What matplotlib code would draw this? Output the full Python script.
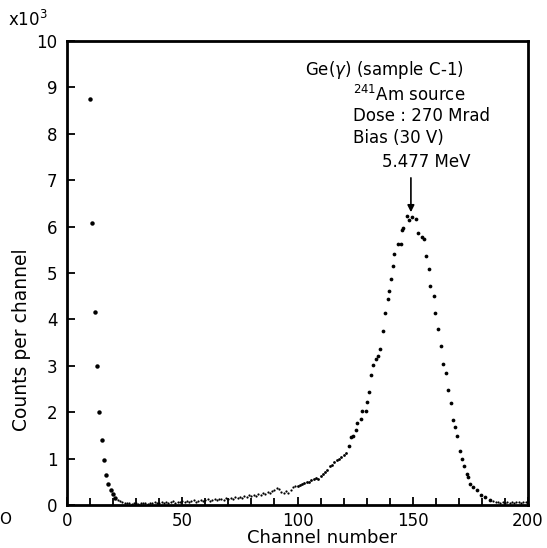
import matplotlib
matplotlib.use("Agg")
import matplotlib.pyplot as plt
from matplotlib.ticker import MultipleLocator

# ---- data (counts in units of 10^3) ----
low_ch = [10, 11, 12, 13, 14, 15, 16, 17, 18, 19, 20, 21]
low_counts = [8.75, 6.08, 4.15, 3.00, 2.00, 1.40, 0.97, 0.65, 0.45, 0.33, 0.23, 0.16]

bg_ch = list(range(22, 100))
bg_counts = [0.11, 0.08, 0.06, 0.05, 0.04, 0.05, 0.03, 0.04, 0.05, 0.03,
             0.04, 0.05, 0.04, 0.03, 0.05, 0.04, 0.06, 0.04, 0.05, 0.06,
             0.04, 0.07, 0.05, 0.06, 0.08, 0.05, 0.07, 0.06, 0.08, 0.07,
             0.09, 0.06, 0.08, 0.10, 0.07, 0.09, 0.11, 0.08, 0.10, 0.12,
             0.09, 0.11, 0.13, 0.10, 0.12, 0.14, 0.11, 0.15, 0.13, 0.16,
             0.14, 0.17, 0.15, 0.18, 0.16, 0.20, 0.17, 0.21, 0.19, 0.22,
             0.20, 0.24, 0.21, 0.25, 0.23, 0.27, 0.25, 0.30, 0.32, 0.36,
             0.34, 0.28, 0.25, 0.30, 0.26, 0.33, 0.38, 0.42]

rise_ch = [100, 101, 102, 103, 104, 105, 106, 107, 108, 109, 110, 111,
           112, 113, 114, 115, 116, 117, 118, 119, 120, 121]
rise_counts = [0.41, 0.44, 0.46, 0.47, 0.49, 0.50, 0.53, 0.55, 0.58, 0.57,
               0.63, 0.66, 0.72, 0.76, 0.83, 0.86, 0.92, 0.97, 1.00, 1.04,
               1.08, 1.13]

peak_ch = [122.3, 123.0, 124.2, 125.4, 126.0, 127.5, 127.8, 129.6, 130.3,
           131.0, 131.8, 132.9, 133.9, 134.9, 135.8, 137.0, 138.1, 139.1,
           139.6, 140.5, 141.6, 142.0, 143.7, 144.8, 145.2, 145.9, 147.4,
           148.5, 149.8, 151.4, 152.4, 153.9, 154.9, 155.7, 156.9, 157.5,
           159.4, 159.8, 161.1, 162.1, 163.1, 164.4, 165.4, 166.4, 167.6,
           168.3, 169.0, 170.5, 171.5, 172.2, 173.4, 174.1, 174.8, 176.3,
           177.7, 179.5, 181.3, 183.5]
peak_counts = [1.28, 1.46, 1.49, 1.62, 1.76, 1.85, 2.03, 2.03, 2.21,
               2.44, 2.80, 3.01, 3.15, 3.21, 3.36, 3.76, 4.14, 4.43,
               4.62, 4.86, 5.15, 5.40, 5.62, 5.62, 5.93, 5.98, 6.23,
               6.14, 6.20, 6.16, 5.86, 5.77, 5.73, 5.37, 5.08, 4.73,
               4.51, 4.14, 3.79, 3.43, 3.03, 2.84, 2.47, 2.19, 1.83,
               1.69, 1.49, 1.17, 1.00, 0.83, 0.67, 0.60, 0.45, 0.39,
               0.32, 0.22, 0.17, 0.11]

tail_ch = list(range(185, 200))
tail_counts = [0.08, 0.06, 0.07, 0.05, 0.06, 0.05, 0.07, 0.05, 0.06, 0.05,
               0.06, 0.07, 0.05, 0.06, 0.07]

x_ticks = [0, 50, 100, 150, 200]
y_ticks = [0, 1, 2, 3, 4, 5, 6, 7, 8, 9, 10]

annotation_lines = ["Ge($\\gamma$) (sample C-1)", "$^{241}$Am source",
                    "Dose : 270 Mrad", "Bias (30 V)"]
peak_label = "5.477 MeV"
arrow_x = 149.2
arrow_y0, arrow_y1 = 7.05, 6.31

# ---- figure ----
W, H = 547, 548
fig = plt.figure(figsize=(W / 100, H / 100), dpi=100)
ax = fig.add_axes([67 / W, 1 - 505 / H, (528 - 67) / W, (505 - 41) / H])

ax.plot(low_ch, low_counts, 'o', color='black', ms=3.2, mew=0)
ax.plot(bg_ch, bg_counts, 'o', color='black', ms=1.6, mew=0)
ax.plot(rise_ch, rise_counts, 'o', color='black', ms=2.0, mew=0)
ax.plot(peak_ch, peak_counts, 'o', color='black', ms=2.7, mew=0)
ax.plot(tail_ch, tail_counts, 'o', color='black', ms=1.6, mew=0)

ax.set_xlim(0, 200)
ax.set_ylim(0, 10)
ax.set_xticks(x_ticks)
ax.set_yticks(y_ticks)
ax.xaxis.set_minor_locator(MultipleLocator(10))
ax.tick_params(axis='both', which='both', direction='in', top=False, right=False,
               width=1.3, labelsize=12)
ax.tick_params(axis='both', which='major', length=6)
ax.tick_params(axis='both', which='minor', length=5)
ax.tick_params(axis='x', pad=5)
ax.tick_params(axis='y', pad=7)
for s in ax.spines.values():
    s.set_linewidth(2.0)

# axis labels placed as in the reference
fig.text(322 / W, 1 - 538 / H, "Channel number", ha='center', va='center', fontsize=13)
fig.text(22 / W, 1 - 340 / H, "Counts per channel", ha='center', va='center',
         rotation=90, fontsize=13.5)
fig.text(8 / W, 1 - 20 / H, "x10$^{3}$", ha='left', va='center', fontsize=12)
fig.text(5 / W, 1 - 520 / H, "O", ha='center', va='center', fontsize=11)

# annotation block
fig.text(305 / W, 1 - 70 / H, annotation_lines[0], ha='left', va='center', fontsize=12)
for t, y in zip(annotation_lines[1:], [95, 116, 138]):
    fig.text(353 / W, 1 - y / H, t, ha='left', va='center', fontsize=12)

fig.text(426 / W, 1 - 162 / H, peak_label, ha='center', va='center', fontsize=12)
ax.annotate("", xy=(arrow_x, arrow_y1), xytext=(arrow_x, arrow_y0),
            arrowprops=dict(arrowstyle='-|>', color='black', lw=1.2,
                            shrinkA=0, shrinkB=0, mutation_scale=10))

fig.savefig("out.png", dpi=100, facecolor='white')
